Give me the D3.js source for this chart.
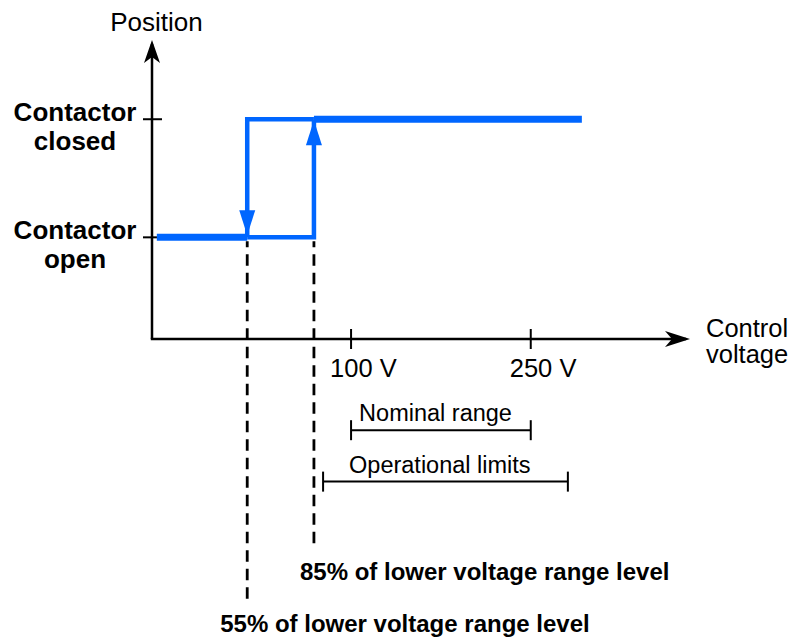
<!DOCTYPE html>
<html>
<head>
<meta charset="utf-8">
<script src="https://cdn.jsdelivr.net/npm/d3@7.9.0/dist/d3.min.js"></script>
<style>
  body { margin: 0; background: #fff; }
  svg { display: block; font-family: "Liberation Sans", Arial, Helvetica, sans-serif; }
</style>
</head>
<body>
<svg id="chart" width="792" height="644"></svg>
<script>
// schematic units: x = control voltage (arbitrary), y = contactor position
const stateNames = [['Contactor', 'closed'], ['Contactor', 'open']];
const stateLevels = [0.735, 0.34];
const tickValues = [3.7, 7.04];
const tickLabels = ['100 V', '250 V'];
const lineStart = 0.09;
const lineEnd = 7.99;
const dropout = 1.77;   // 55% of lower voltage range level
const pickup = 3.01;    // 85% of lower voltage range level
const ranges = [
  { label: 'Nominal range', from: 3.7, to: 7.04, level: -0.305, textX: 5.27 },
  { label: 'Operational limits', from: 3.18, to: 7.73, level: -0.477, textX: 5.35 }
];
const levelNotes = [
  { label: '85% of lower voltage range level', at: pickup, dashTo: -0.687, textY: -0.807, dx: -14 },
  { label: '55% of lower voltage range level', at: dropout, dashTo: -0.88, textY: -0.98, dx: -27 }
];

const blue = '#0066ff';
const svg = d3.select('#chart');

const x = d3.scaleLinear().domain([0, 10]).range([152, 690]);
const y = d3.scaleLinear().domain([0, 1]).range([339, 40]);

const closed = stateLevels[0];
const open = stateLevels[1];

// axes with open arrowheads
svg.append('line')
  .attr('x1', x(0)).attr('y1', y(0)).attr('x2', x(0)).attr('y2', y(1) + 4)
  .attr('stroke', '#000').attr('stroke-width', 2.5);
svg.append('line')
  .attr('x1', x(0) - 1.2).attr('y1', y(0)).attr('x2', x(10) - 4).attr('y2', y(0))
  .attr('stroke', '#000').attr('stroke-width', 2.5);
svg.append('path')
  .attr('d', `M${x(0)},${y(1)} L${x(0) + 8},${y(1) + 23} L${x(0)},${y(1) + 17} L${x(0) - 8},${y(1) + 23} Z`)
  .attr('fill', '#000');
svg.append('path')
  .attr('d', `M${x(10)},${y(0)} L${x(10) - 25},${y(0) - 8} L${x(10) - 18},${y(0)} L${x(10) - 25},${y(0) + 8} Z`)
  .attr('fill', '#000');

svg.append('text').attr('x', 156.5).attr('y', 31)
  .attr('text-anchor', 'middle').attr('font-size', 26).text('Position');
const ctl = svg.append('text').attr('x', 706).attr('y', y(0) - 2).attr('font-size', 25.5);
ctl.append('tspan').text('Control');
ctl.append('tspan').attr('x', 706).attr('dy', 26).text('voltage');

// y ticks + state labels
stateLevels.forEach((lv, i) => {
  svg.append('line')
    .attr('x1', x(0) - 9).attr('x2', x(0) + 10)
    .attr('y1', y(lv)).attr('y2', y(lv))
    .attr('stroke', '#000').attr('stroke-width', 2);
  const t = svg.append('text')
    .attr('x', 75).attr('y', y(lv) + 2)
    .attr('text-anchor', 'middle').attr('font-size', 26).attr('font-weight', 'bold');
  t.append('tspan').text(stateNames[i][0]);
  t.append('tspan').attr('x', 75).attr('dy', 29).text(stateNames[i][1]);
});

// x ticks
tickValues.forEach((v, i) => {
  svg.append('line')
    .attr('x1', x(v)).attr('x2', x(v))
    .attr('y1', y(0) - 10).attr('y2', y(0) + 10)
    .attr('stroke', '#000').attr('stroke-width', 2);
  svg.append('text')
    .attr('x', x(v) - 21).attr('y', 377)
    .attr('font-size', 25.5).text(tickLabels[i]);
});

// range brackets
ranges.forEach(r => {
  const ry = y(r.level);
  const g = svg.append('g').attr('stroke', '#000').attr('stroke-width', 2);
  g.append('line').attr('x1', x(r.from)).attr('x2', x(r.to)).attr('y1', ry).attr('y2', ry);
  g.append('line').attr('x1', x(r.from)).attr('x2', x(r.from)).attr('y1', ry - 10).attr('y2', ry + 10);
  g.append('line').attr('x1', x(r.to)).attr('x2', x(r.to)).attr('y1', ry - 10).attr('y2', ry + 10);
  svg.append('text')
    .attr('x', x(r.textX)).attr('y', ry - 9)
    .attr('text-anchor', 'middle').attr('font-size', 23.5).text(r.label);
});

// dashed drop lines + notes
levelNotes.forEach(n => {
  svg.append('line')
    .attr('x1', x(n.at)).attr('x2', x(n.at))
    .attr('y1', y(open) + 4).attr('y2', y(n.dashTo))
    .attr('stroke', '#000').attr('stroke-width', 2.8)
    .attr('stroke-dasharray', '11.5,7').attr('stroke-dashoffset', 5.5);
  svg.append('text')
    .attr('x', x(n.at) + n.dx).attr('y', y(n.textY))
    .attr('font-size', 24).attr('font-weight', 'bold').text(n.label);
});

// hysteresis curve
const line = d3.line().x(d => x(d[0])).y(d => y(d[1]));
const arrowLen = 25;
const arrowHalf = 8;

svg.append('path')
  .attr('d', line([[lineStart, open], [dropout, open]]))
  .attr('fill', 'none').attr('stroke', blue).attr('stroke-width', 7);
svg.append('path')
  .attr('d', line([[pickup, closed], [lineEnd, closed]]))
  .attr('fill', 'none').attr('stroke', blue).attr('stroke-width', 7);
svg.append('path')
  .attr('d', line([[dropout, open], [pickup, open], [pickup, closed - 0.003]]))
  .attr('fill', 'none').attr('stroke', blue).attr('stroke-width', 4.5);
svg.append('path')
  .attr('d', line([[pickup, closed], [dropout, closed], [dropout, open]]))
  .attr('fill', 'none').attr('stroke', blue).attr('stroke-width', 4.5)
  .attr('stroke-linejoin', 'miter');

// arrowheads: down at dropout, up at pickup
const downTip = y(open) - 2;
svg.append('path')
  .attr('d', `M${x(dropout)},${downTip} L${x(dropout) - arrowHalf},${downTip - arrowLen} L${x(dropout) + arrowHalf},${downTip - arrowLen} Z`)
  .attr('fill', blue);
const upTip = y(closed) + 1;
svg.append('path')
  .attr('d', `M${x(pickup)},${upTip} L${x(pickup) - arrowHalf},${upTip + arrowLen} L${x(pickup) + arrowHalf},${upTip + arrowLen} Z`)
  .attr('fill', blue);
</script>
</body>
</html>
